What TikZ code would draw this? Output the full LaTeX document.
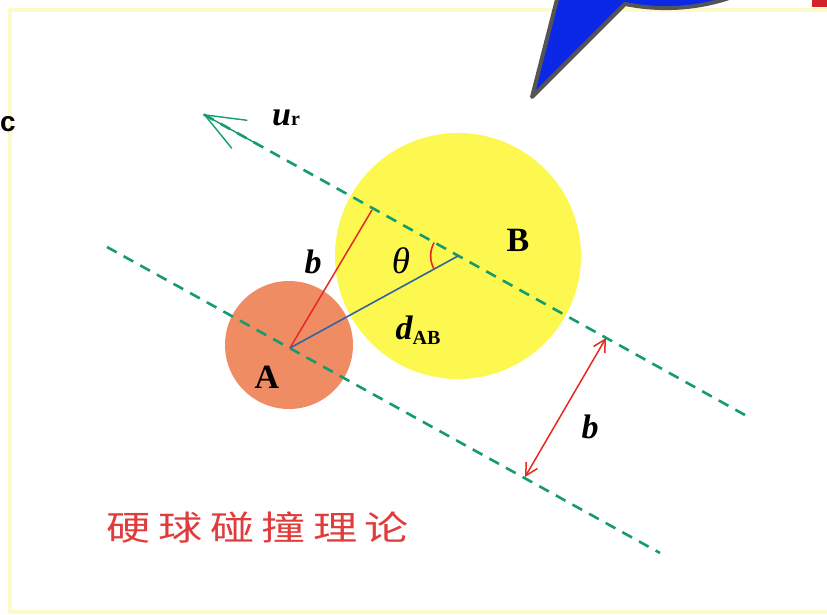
\documentclass[tikz,border=0pt]{standalone}
\usepackage{fontspec}
\setmainfont{Liberation Serif}
\newfontfamily\cjkfont{Noto Sans CJK SC}
\newfontfamily\sansfont{Liberation Sans}
\usetikzlibrary{arrows.meta,calc}
\definecolor{dashgreen}{RGB}{20,155,110}
\definecolor{salmonA}{RGB}{240,140,100}
\definecolor{yellowB}{RGB}{252,248,80}
\definecolor{redline}{RGB}{230,40,30}
\definecolor{blueline}{RGB}{50,100,160}
\definecolor{framey}{RGB}{252,250,200}
\definecolor{calloutblue}{RGB}{10,40,230}
\definecolor{calloutgray}{RGB}{85,85,85}
\definecolor{cornerred}{RGB}{210,35,40}
\definecolor{cjkred}{RGB}{225,60,60}
\tikzset{
  guide/.style={dashgreen, line width=2.6pt, dash pattern=on 11pt off 8pt},
  lbl/.style={inner sep=0pt, font=\fontsize{34}{36}\selectfont\bfseries\itshape},
}
\begin{document}
\begin{tikzpicture}[x=1pt,y=-1pt]
\useasboundingbox (0,0) rectangle (827,615);
\begin{scope}
\clip (0,0) rectangle (827,615);
% frame
\draw[framey, line width=4pt] (10,10) rectangle (850,612);
% callout
\filldraw[fill=calloutblue, draw=calloutgray, line width=4pt, line join=round]
  (562,-20) -- (532,97) -- (625,4) .. controls (665,12) and (705,8) .. (740,-6) -- (740,-30) -- cycle;
\fill[cornerred] (812,0) rectangle (827,7);
\end{scope}
\node[font=\sansfont\bfseries\fontsize{28}{30}\selectfont, inner sep=0pt] (cc) at (8,124) {c};
% circles
\coordinate (Ac) at (290,348);
\coordinate (Bc) at (458,256);
\fill[yellowB] (Bc) circle[radius=123];
\fill[salmonA] (289,345) circle[radius=64];
% dashed lines
\coordinate (U1) at (745,415);
\coordinate (U0) at (203,114);
\coordinate (L0) at (107,247);
\coordinate (L1) at (660,553);
\draw[guide] (L0) -- (L1);
\draw[guide] (U1) -- (U0);
\draw[dashgreen, line width=1.4pt, -{Straight Barb[length=40pt,width=32pt]}] ($(U0)!0.1!(U1)$) -- (U0);
% b, d_AB
\coordinate (F) at (372,210);
\draw[redline, line width=1.5pt] (Ac) -- (F);
\draw[blueline, line width=1.6pt] (Ac) -- (Bc);
\draw[redline, line width=1.6pt] (458-24,256+13) arc[start angle=151.5, end angle=209, radius=27.5];
% b arrow
\coordinate (P1) at (606,338);
\coordinate (P2) at (525,477);
\draw[redline, line width=1.5pt, {Straight Barb[length=12pt,width=13pt]}-{Straight Barb[length=12pt,width=13pt]}] (P2) -- (P1);
% labels
\node[lbl] (ur) at (286,118) {u\fontsize{20}{22}\selectfont\upshape r};
\node[lbl] (bl) at (313,262) {b};
\node[inner sep=0pt, font=\fontsize{37}{39}\selectfont\itshape] (th) at (401,261) {θ};
\node[lbl] (Bl) at (518,240) {\upshape B};
\node[lbl] (Al) at (267,377) {\upshape A};
\node[lbl] (dl) at (418,330) {d\raisebox{-5pt}{\fontsize{20}{22}\selectfont\upshape AB}};
\node[lbl] (b2) at (590,427) {b};
\node[inner sep=0pt, text=cjkred, xscale=1.3, font=\cjkfont\fontsize{34}{36}\selectfont] (title) at (258,528) {硬\,球\,碰\,撞\,理\,论};
\end{tikzpicture}
\end{document}
